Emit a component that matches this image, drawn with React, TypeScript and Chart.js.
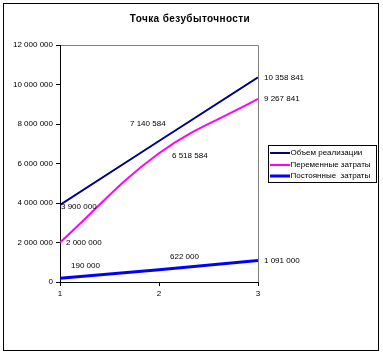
import React, { useEffect, useRef } from "react";
import { Chart, registerables } from "chart.js";

Chart.register(...registerables);

const TITLE = "Точка безубыточности";
const periods = [1, 2, 3];
const seriesNames = ["Объем реализации", "Переменные затраты", "Постоянные  затраты"];
const revenue = [3900000, 7140584, 10358841];
const variableCosts = [2000000, 6518584, 9267841];
const fixedCosts = [190000, 622000, 1091000];
const yTickMax = 12000000;
const yTickStep = 2000000;

const COLORS = ["#000080", "#FF00FF", "#0000FF"];
const WIDTHS = [2, 2, 3];
const TENSIONS = [0, 0.4, 0];
// label offsets (left edge dx, center dy) relative to each point
const LABEL_OFFSETS = [
  [[1, 2], [-29, -17], [6, 0]],
  [[6, 0], [13, 3], [6, 0]],
  [[11, -12], [11, -13], [6, 0]],
];

const FONT = "'Liberation Sans', Arial, sans-serif";

function fmt(v: number): string {
  return String(Math.round(v)).replace(/\B(?=(\d{3})+(?!\d))/g, " ");
}

const decorPlugin = {
  id: "decor",
  beforeDraw(chart: any) {
    const ctx = chart.ctx;
    ctx.save();
    ctx.fillStyle = "#fff";
    ctx.fillRect(0, 0, chart.width, chart.height);
    ctx.strokeStyle = "#000";
    ctx.lineWidth = 1;
    ctx.strokeRect(3.5, 3.5, 375, 347);
    ctx.fillStyle = "#000";
    ctx.font = `bold 10px ${FONT}`;
    ctx.textAlign = "center";
    ctx.textBaseline = "middle";
    (ctx as any).letterSpacing = "0.4px";
    ctx.fillText(TITLE, 190, 19.5);
    (ctx as any).letterSpacing = "0px";
    const a = chart.chartArea;
    ctx.strokeStyle = "#808080";
    ctx.beginPath();
    ctx.moveTo(Math.round(a.left) + 0.5, Math.round(a.top) + 0.5);
    ctx.lineTo(Math.round(a.right) + 0.5, Math.round(a.top) + 0.5);
    ctx.lineTo(Math.round(a.right) + 0.5, Math.round(a.bottom) + 0.5);
    ctx.stroke();
    ctx.restore();
  },
  afterDatasetsDraw(chart: any) {
    const ctx = chart.ctx;
    ctx.save();
    ctx.fillStyle = "#000";
    ctx.font = `8px ${FONT}`;
    ctx.textAlign = "left";
    ctx.textBaseline = "middle";
    chart.data.datasets.forEach((ds: any, di: number) => {
      const meta = chart.getDatasetMeta(di);
      meta.data.forEach((pt: any, i: number) => {
        const off = LABEL_OFFSETS[di][i];
        ctx.fillText(fmt(ds.data[i].y), pt.x + off[0], pt.y + off[1]);
      });
    });
    // legend
    ctx.strokeStyle = "#000";
    ctx.lineWidth = 1;
    ctx.strokeRect(268.5, 145.5, 108, 37);
    chart.data.datasets.forEach((ds: any, di: number) => {
      const y = 153 + di * 11.5;
      ctx.strokeStyle = ds.borderColor;
      ctx.lineWidth = ds.borderWidth;
      ctx.beginPath();
      ctx.moveTo(270, Math.round(y));
      ctx.lineTo(290, Math.round(y));
      ctx.stroke();
      ctx.fillStyle = "#000";
      ctx.fillText(ds.label, 290.5, y);
    });
    ctx.restore();
  },
};

export default function App() {
  const ref = useRef<HTMLCanvasElement>(null);
  useEffect(() => {
    document.body.style.margin = "0";
    const all = [revenue, variableCosts, fixedCosts];
    const chart = new Chart(ref.current as HTMLCanvasElement, {
      type: "line",
      data: {
        datasets: all.map((arr, di) => ({
          label: seriesNames[di],
          data: arr.map((v, i) => ({ x: periods[i], y: v })),
          borderColor: COLORS[di],
          backgroundColor: COLORS[di],
          borderWidth: WIDTHS[di],
          tension: TENSIONS[di],
          pointRadius: 0,
          fill: false,
        })),
      },
      options: {
        responsive: false,
        animation: false,
        events: [],
        layout: { padding: { top: 45, right: 125, left: 0, bottom: 0 } },
        plugins: { legend: { display: false }, title: { display: false }, tooltip: { enabled: false } },
        scales: {
          x: {
            type: "linear",
            min: 1,
            max: 3,
            afterFit: (s: any) => { s.height = 73; },
            ticks: { stepSize: 1, color: "#000", font: { family: FONT, size: 8 }, padding: 3 },
            grid: { display: true, drawOnChartArea: false, drawTicks: true, tickLength: 4, color: "#000" },
            border: { display: true, color: "#000", width: 1 },
          },
          y: {
            min: 0,
            max: yTickMax,
            afterFit: (s: any) => { s.width = 60; },
            ticks: { stepSize: yTickStep, color: "#000", font: { family: FONT, size: 8 }, padding: 3, callback: (v: any) => fmt(Number(v)) },
            grid: { display: true, drawOnChartArea: false, drawTicks: true, tickLength: 4, color: "#000" },
            border: { display: true, color: "#000", width: 1 },
          },
        },
      },
      plugins: [decorPlugin],
    } as any);
    return () => chart.destroy();
  }, []);
  return (
    <div style={{ position: "absolute", left: 0, top: 0, width: 383, height: 355 }}>
      <canvas ref={ref} width={383} height={355} style={{ width: 383, height: 355, display: "block" }} />
    </div>
  );
}
